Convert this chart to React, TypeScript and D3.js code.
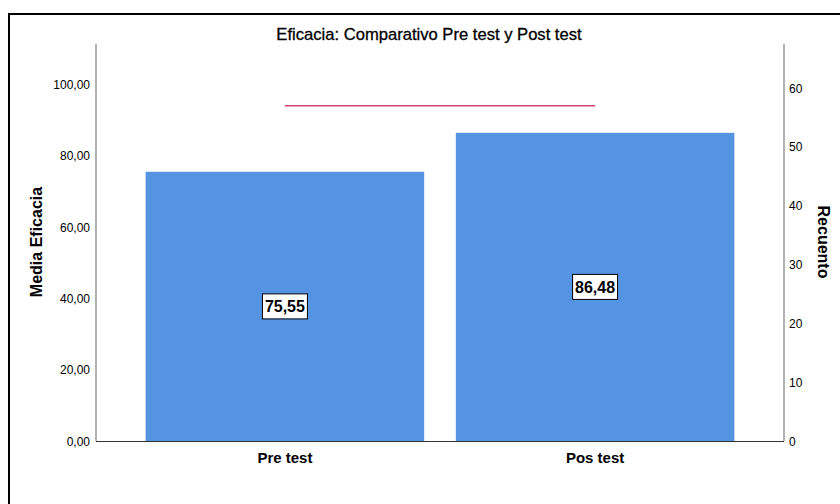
import React from "react";
import * as d3 from "d3";

const categories = ["Pre test", "Pos test"];
const meanValues = [75.55, 86.48];
const countValues = [57, 57];
const leftTicks = [0, 20, 40, 60, 80, 100];
const rightTicks = [0, 10, 20, 30, 40, 50, 60];

const W = 840;
const H = 504;
const FONT = "'Liberation Sans', Arial, sans-serif";

export default function App() {
  const plotLeft = 96;
  const plotRight = 784;
  const plotTop = 44;
  const plotBottom = 441;

  const x = d3.scaleBand<string>().domain(categories).range([plotLeft, plotRight]).paddingInner(0.102).paddingOuter(0.16);
  const yL = d3.scaleLinear().domain([0, 111.4]).range([plotBottom, plotTop]);
  const yR = d3.scaleLinear().domain([0, 67.5]).range([plotBottom, plotTop]);

  const fmt = (v: number) => v.toFixed(2).replace(".", ",");

  const line = d3
    .line<number>()
    .x((_, i) => (x(categories[i]) as number) + x.bandwidth() / 2)
    .y((d) => yR(d));

  return (
    <svg width={W} height={H} style={{ position: "absolute", left: 0, top: 0, background: "#fff" }} fontFamily={FONT}>
      <rect x={0} y={0} width={W} height={H} fill="#fff" />
      <rect x={9} y={14} width={W + 10} height={H + 10} fill="none" stroke="#000" strokeWidth={2} />
      <text x={429} y={40} textAnchor="middle" fontSize={16.6} fill="#000" stroke="#000" strokeWidth={0.3}>
        Eficacia: Comparativo Pre test y Post test
      </text>

      {categories.map((c, i) => (
        <rect key={c} x={x(c)} y={yL(meanValues[i])} width={x.bandwidth()} height={plotBottom - yL(meanValues[i])} fill="#5594E3" />
      ))}

      <path d={line(countValues) || ""} fill="none" stroke="#D0486B" strokeWidth={1.5} />

      <line x1={plotLeft} x2={plotLeft} y1={plotTop} y2={plotBottom} stroke="#999" strokeWidth={1.5} />
      <line x1={plotRight} x2={plotRight} y1={plotTop} y2={plotBottom} stroke="#999" strokeWidth={1.5} />
      <line x1={plotLeft} x2={plotRight} y1={plotBottom + 0.5} y2={plotBottom + 0.5} stroke="#333" strokeWidth={1} />

      {leftTicks.map((t) => (
        <text key={t} x={plotLeft - 6} y={yL(t) + 4.5} textAnchor="end" fontSize={12} fill="#000">
          {fmt(t)}
        </text>
      ))}
      {rightTicks.map((t) => (
        <text key={t} x={plotRight + 5} y={yR(t) + 4.5} textAnchor="start" fontSize={12} fill="#000">
          {t}
        </text>
      ))}

      {categories.map((c) => (
        <text key={c} x={(x(c) as number) + x.bandwidth() / 2} y={463} textAnchor="middle" fontSize={15} fontWeight="bold" fill="#000">
          {c}
        </text>
      ))}

      <text transform={`translate(42,242) rotate(-90)`} textAnchor="middle" fontSize={16} fontWeight="bold" fill="#000">
        Media Eficacia
      </text>
      <text transform={`translate(818,242) rotate(90)`} textAnchor="middle" fontSize={16} fontWeight="bold" fill="#000">
        Recuento
      </text>

      {categories.map((c, i) => {
        const cx = (x(c) as number) + x.bandwidth() / 2;
        const cy = yL(meanValues[i] / 2);
        return (
          <g key={c}>
            <rect x={cx - 22.5} y={cy - 12.5} width={45} height={25} fill="#fff" stroke="#000" strokeWidth={1} />
            <text x={cx} y={cy + 6} textAnchor="middle" fontSize={16} fontWeight="bold" fill="#000">
              {fmt(meanValues[i])}
            </text>
          </g>
        );
      })}
    </svg>
  );
}
